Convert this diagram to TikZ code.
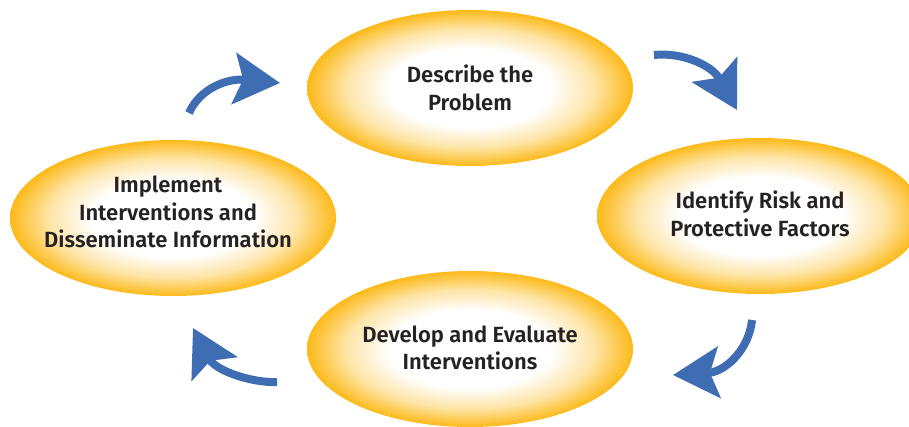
\documentclass[tikz,border=0pt]{standalone}
\usepackage{fontspec}
\setmainfont{Fira Sans}[BoldFont={Fira Sans SemiBold}]
\usetikzlibrary{arrows.meta,shapes.geometric}

\definecolor{gold}{RGB}{252,186,26}
\definecolor{cycleblue}{RGB}{62,109,180}
\definecolor{ink}{RGB}{38,34,35}

% white core fading out to a gold rim (rim sits at 25bp)
\pgfdeclareradialshading{glow}{\pgfpoint{0bp}{0bp}}{%
  color(0bp)=(white); color(12.5bp)=(white); color(19bp)=(gold!38);
  color(25bp)=(gold); color(50bp)=(gold)}

\tikzset{
  stage/.style={ellipse, minimum width=326pt, minimum height=156pt,
    inner sep=0pt, shading=glow},
  stagetext/.style={align=center, text=ink, inner sep=0pt,
    font=\fontsize{22}{27.5}\selectfont\bfseries},
  cyclearrow/.style={draw=cycleblue, line width=8pt,
    -{Stealth[length=46pt, width=51pt, inset=9pt, fill=cycleblue]}}
}

\begin{document}
\begin{tikzpicture}[x=1pt, y=-1pt]
  \useasboundingbox (0,0) rectangle (909,427);

  % the four stages of the cycle
  \node[stage] (describe) at (470,88) {};
  \node[stagetext] (describe-t) at (470,88) {Describe the\\Problem};
  \node[stage] (identify) at (760,216) {};
  \node[stagetext] (identify-t) at (760,214) {Identify Risk and\\Protective Factors};
  \node[stage] (develop) at (470,349) {};
  \node[stagetext] (develop-t) at (470,348) {Develop and Evaluate\\Interventions};
  \node[stage] (implement) at (173,218) {};
  \node[stagetext] (implement-t) at (168,212) {Implement\\Interventions and\\Disseminate Information};

  % arrow ends
  \coordinate (a1s) at (189,113);  \coordinate (a1e) at (280,83);
  \coordinate (a2s) at (654,55);   \coordinate (a2e) at (737,110);
  \coordinate (a3s) at (752,320);  \coordinate (a3e) at (673,375);
  \coordinate (a4s) at (277,382);  \coordinate (a4e) at (193,328);

  % curved arrows running clockwise between the stages
  \draw[cyclearrow] (a1s) .. controls (200,88) and (228,78) .. (a1e);
  \draw[cyclearrow] (a2s) .. controls (682,52) and (712,65) .. (a2e);
  \draw[cyclearrow] (a3s) .. controls (749,350) and (725,372) .. (a3e);
  \draw[cyclearrow] (a4s) .. controls (250,383) and (215,370) .. (a4e);
\end{tikzpicture}
\end{document}
